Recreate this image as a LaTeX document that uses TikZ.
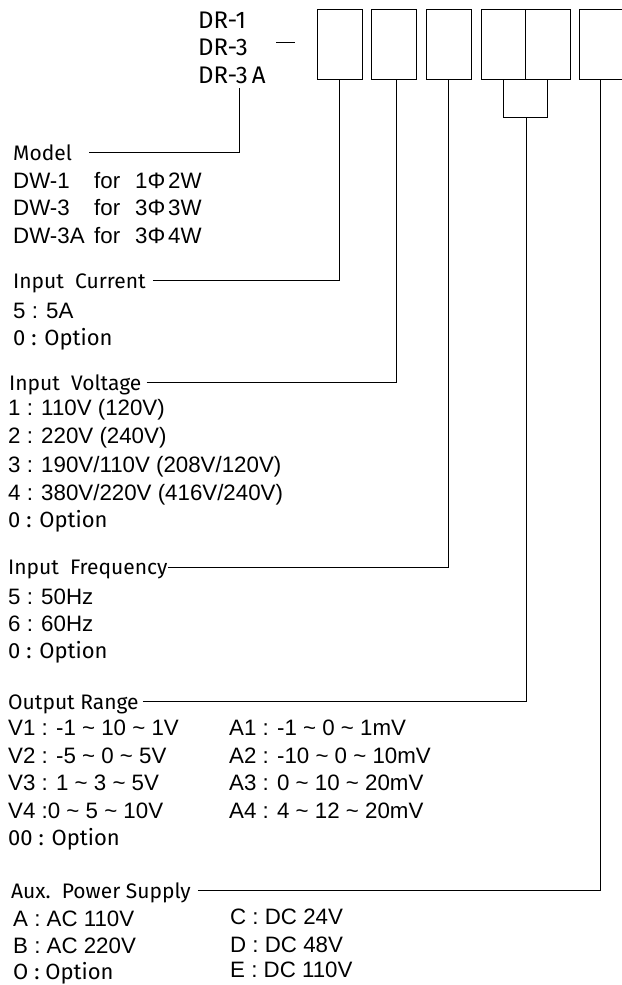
\documentclass[tikz,border=0pt]{standalone}
\usepackage{fontspec}
\setmainfont{Liberation Sans}
\newfontfamily\headfont{Fira Sans}

\begin{document}
\begin{tikzpicture}[
  x=1pt, y=-1pt,
  every node/.style={inner sep=0pt, anchor=base west},
  head/.style={font=\headfont\fontsize{21}{25}\selectfont, text depth=0pt},
  code/.style={font=\headfont\fontsize{24}{28}\selectfont},
  val/.style={font=\fontsize{22.3}{26}\selectfont},
  opt/.style={font=\headfont\fontsize{22}{26}\selectfont},
  slot/.style={draw, line width=0.8pt, minimum width=45pt, minimum height=70pt, anchor=center},
  edge/.style={draw, line width=0.8pt}]

  \useasboundingbox (0,0) rectangle (621,985);

  % ---- order code ---------------------------------------------------------
  \node[code] (dr1) at (198,28.5) {DR-1};
  \node[code] (dr3) at (198,55.5) {DR-3};
  \node[code] (dr3a) at (198,83.5) {DR-3\,A};

  \node[slot] (slotI)   at (339.5,44.3) {};
  \node[slot] (slotII)  at (393.5,44.3) {};
  \node[slot] (slotIII) at (448.5,44.3) {};
  \node[slot, minimum width=44.5pt] (slotIV) at (503.25,44.3) {};
  \node[slot, minimum width=44.5pt] (slotV)  at (547.75,44.3) {};
  \node[slot] (slotVI)  at (601.75,44.3) {};

  \draw[edge] ([xshift=28pt, yshift=5pt]dr3.east) -- +(19,0);

  % ---- model --------------------------------------------------------------
  \node[head] (model) at (13,160.5) {Model};
  \node[val] (dw1) at (13,188.5) {\makebox[81pt][l]{DW-1}\makebox[41pt][l]{for}\makebox[33pt][l]{1Φ}2W};
  \node[val] (dw3) at (13,215.5) {\makebox[81pt][l]{DW-3}\makebox[41pt][l]{for}\makebox[33pt][l]{3Φ}3W};
  \node[val] (dw3a) at (13,243.5) {\makebox[81pt][l]{DW-3A}\makebox[41pt][l]{for}\makebox[33pt][l]{3Φ}4W};

  % ---- input current ------------------------------------------------------
  \node[head] (curr) at (13,288) {Input\ \ Current};
  \node[val] (curr5) at (13,318.5) {5 : 5A};
  \node[opt] (curr0) at (13,345) {0 : Option};

  % ---- input voltage ------------------------------------------------------
  \node[head] (volt) at (9,390) {Input\ \ Voltage};
  \node[val] (volt1) at (8,415.5) {1 : 110V (120V)};
  \node[val] (volt2) at (8,443.5) {2 : 220V (240V)};
  \node[val] (volt3) at (8,472.5) {3 : 190V/110V (208V/120V)};
  \node[val] (volt4) at (8,500.5) {4 : 380V/220V (416V/240V)};
  \node[opt] (volt0) at (8,527) {0 : Option};

  % ---- input frequency ----------------------------------------------------
  \node[head] (freq) at (8,574.3) {Input\ \ Frequency};
  \node[val] (freq5) at (8,604) {5 : 50Hz};
  \node[val] (freq6) at (8,631) {6 : 60Hz};
  \node[opt] (freq0) at (8,658) {0 : Option};

  % ---- output range -------------------------------------------------------
  \node[head] (outr) at (8,709) {Output Range};
  \node[val] (outv1) at (8,735.5) {V1 : -1 \textasciitilde{} 10 \textasciitilde{} 1V};
  \node[val] (outv2) at (8,763.5) {V2 : -5 \textasciitilde{} 0 \textasciitilde{} 5V};
  \node[val] (outv3) at (8,790.5) {V3 : 1 \textasciitilde{} 3 \textasciitilde{} 5V};
  \node[val] (outv4) at (8,818.5) {V4 :0 \textasciitilde{} 5 \textasciitilde{} 10V};
  \node[opt] (outv0) at (8,845) {00 : Option};
  \node[val] (outa1) at (229,735.5) {A1 : -1 \textasciitilde{} 0 \textasciitilde{} 1mV};
  \node[val] (outa2) at (229,763.5) {A2 : -10 \textasciitilde{} 0 \textasciitilde{} 10mV};
  \node[val] (outa3) at (229,790.5) {A3 : 0 \textasciitilde{} 10 \textasciitilde{} 20mV};
  \node[val] (outa4) at (229,818.5) {A4 : 4 \textasciitilde{} 12 \textasciitilde{} 20mV};

  % ---- aux. power supply --------------------------------------------------
  \node[head] (aux) at (11,898) {Aux.\ \ Power Supply};
  \node[val] (auxa) at (13,926.5) {A : AC 110V};
  \node[val] (auxb) at (13,953.5) {B : AC 220V};
  \node[opt] (auxo) at (13,979) {O : Option};
  \node[val] (auxc) at (230,924.5) {C : DC 24V};
  \node[val] (auxd) at (230,952.5) {D : DC 48V};
  \node[val] (auxe) at (230,977.5) {E : DC 110V};

  % ---- connectors ---------------------------------------------------------
  \coordinate (modtop) at (239,88);
  \coordinate (join) at (526.5,117.7);

  \draw[edge] ([xshift=17pt]model.east) -| (modtop);
  \draw[edge] ([xshift=7pt]curr.east) -| (slotI.south);
  \draw[edge] ([xshift=5pt]volt.east) -| ([xshift=3pt]slotII.south);
  \draw[edge] (freq.east) -| (slotIII.south);
  \draw[edge] (slotIV.south) |- (join) -| (slotV.south);
  \draw[edge] ([xshift=4pt]outr.east) -| (join);
  \draw[edge] ([xshift=7pt]aux.east) -| ([xshift=-1pt]slotVI.south);
\end{tikzpicture}
\end{document}
